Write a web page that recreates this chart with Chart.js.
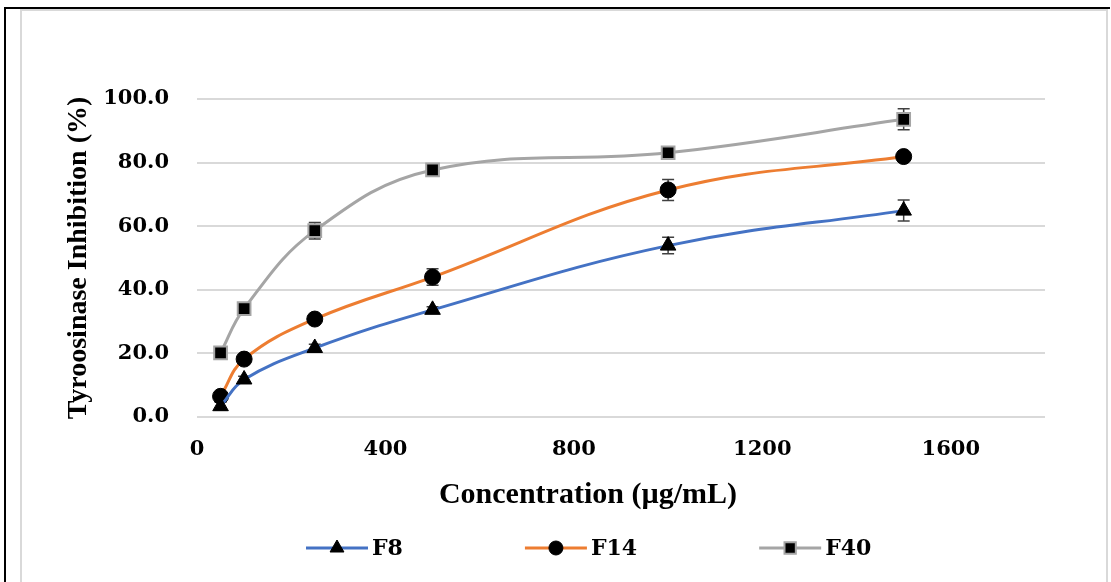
<!DOCTYPE html>
<html>
<head>
<meta charset="utf-8">
<script src="https://cdn.jsdelivr.net/npm/chart.js@4.4.1/dist/chart.umd.min.js"></script>
<style>
  html, body { margin: 0; padding: 0; background: #fff; }
  #wrap { position: relative; width: 1111px; height: 582px; overflow: hidden; }
  #line-chart { position: absolute; left: 0; top: 0; }
  .frame-outer { position: absolute; left: 4px; top: 7px; width: 1104px; height: 600px;
    border-top: 2px solid #000; border-left: 2px solid #000; pointer-events: none; }
  .frame-inner { position: absolute; left: 20px; top: 9px; width: 1084px; height: 600px;
    border: 2px solid #d9d9d9; border-bottom: none; pointer-events: none; }
</style>
</head>
<body>
<div id="wrap">
  <canvas id="line-chart" width="1111" height="582"></canvas>
  <div class="frame-outer"></div>
  <div class="frame-inner"></div>
</div>
<script>

const concentrations = [50, 100, 250, 500, 1000, 1500];

const f8 = [3.4, 11.8, 21.7, 33.7, 53.9, 64.9];
const f8Err = [1.2, 1.0, 1.2, 1.0, 2.6, 3.3];

const f14 = [6.5, 18.2, 30.8, 44.0, 71.4, 81.9];
const f14Err = [0.8, 0.8, 0.8, 2.6, 3.3, 1.0];

const f40 = [20.2, 34.1, 58.6, 77.7, 83.1, 93.6];
const f40Err = [0.8, 0.8, 2.6, 1.0, 1.2, 3.3];

const xTicks = [0, 400, 800, 1200, 1600];
const yTicks = [0, 20, 40, 60, 80, 100];

const tickFont = { family: 'DejaVu Serif', size: 21, weight: 'bold' };
const titleFont = { family: 'Liberation Serif', size: 28, weight: 'bold' };

function points(values) {
    return values.map((v, i) => ({ x: concentrations[i], y: v }));
}

// little helper for the legend samples
function drawMarker(ctx, style, x, y, r) {
    ctx.beginPath();
    if (style === 'triangle') {
        ctx.moveTo(x, y - r);
        ctx.lineTo(x + r * 0.866, y + r * 0.5);
        ctx.lineTo(x - r * 0.866, y + r * 0.5);
        ctx.closePath();
    } else if (style === 'rect') {
        const s = r * Math.SQRT1_2;
        ctx.rect(x - s, y - s, 2 * s, 2 * s);
    } else {
        ctx.arc(x, y, r, 0, Math.PI * 2);
    }
    ctx.fill();
    ctx.stroke();
}

const errorBars = {
    id: 'errorBars',
    beforeDatasetsDraw(chart) {
        const { ctx, scales: { x, y } } = chart;
        ctx.save();
        ctx.strokeStyle = '#404040';
        ctx.lineWidth = 1.5;
        chart.data.datasets.forEach(ds => {
            ds.errors.forEach((e, i) => {
                const p = ds.data[i];
                const px = x.getPixelForValue(p.x);
                const top = y.getPixelForValue(p.y + e);
                const bot = y.getPixelForValue(p.y - e);
                ctx.beginPath();
                ctx.moveTo(px, top); ctx.lineTo(px, bot);
                ctx.moveTo(px - 6, top); ctx.lineTo(px + 6, top);
                ctx.moveTo(px - 6, bot); ctx.lineTo(px + 6, bot);
                ctx.stroke();
            });
        });
        ctx.restore();
    }
};

const sampleLegend = {
    id: 'sampleLegend',
    afterDraw(chart) {
        const ctx = chart.ctx;
        const y = 548;
        let x = 306;
        ctx.save();
        ctx.font = 'bold 22px "DejaVu Serif"';
        ctx.textBaseline = 'middle';
        chart.data.datasets.forEach(ds => {
            ctx.strokeStyle = ds.borderColor;
            ctx.lineWidth = 3;
            ctx.beginPath();
            ctx.moveTo(x, y); ctx.lineTo(x + 62, y);
            ctx.stroke();
            ctx.fillStyle = '#000';
            ctx.strokeStyle = ds.pointBorderColor;
            ctx.lineWidth = ds.pointBorderWidth;
            drawMarker(ctx, ds.pointStyle, x + 31, y, ds.pointRadius - 1);
            ctx.fillStyle = '#000';
            ctx.fillText(ds.label, x + 66, y + 1);
            x += 66 + ctx.measureText(ds.label).width + 122;
        });
        ctx.restore();
    }
};

const chart = new Chart(document.getElementById('line-chart'), {
    type: 'line',
    data: {
        datasets: [{
            label: 'F8',
            data: points(f8),
            errors: f8Err,
            borderColor: '#4472C4',
            borderWidth: 3,
            pointStyle: 'triangle',
            pointRadius: 9,
            pointBackgroundColor: '#000',
            pointBorderColor: '#000',
            pointBorderWidth: 1,
            tension: 0.4
        }, {
            label: 'F14',
            data: points(f14),
            errors: f14Err,
            borderColor: '#ED7D31',
            borderWidth: 3,
            pointStyle: 'circle',
            pointRadius: 8,
            pointBackgroundColor: '#000',
            pointBorderColor: '#000',
            pointBorderWidth: 1,
            tension: 0.4
        }, {
            label: 'F40',
            data: points(f40),
            errors: f40Err,
            borderColor: '#A5A5A5',
            borderWidth: 3,
            pointStyle: 'rect',
            pointRadius: 9,
            pointBackgroundColor: '#000',
            pointBorderColor: '#A5A5A5',
            pointBorderWidth: 2,
            tension: 0.4
        }]
    },
    options: {
        responsive: false,
        animation: false,
        layout: { padding: { left: 65, right: 0, top: 99, bottom: 69 } },
        scales: {
            x: {
                type: 'linear',
                min: 0,
                max: 1800,
                afterBuildTicks: s => { s.ticks = xTicks.map(v => ({ value: v })); },
                // keep the plot clear of the right edge, title/legend still span the full width
                afterFit: s => { s.height = 50; s.paddingRight = 66; },
                grid: { display: false, drawTicks: false },
                border: { display: false },
                ticks: { font: tickFont, color: '#000', padding: 20, callback: v => String(v) }
            },
            y: {
                min: 0,
                max: 100,
                afterBuildTicks: s => { s.ticks = yTicks.map(v => ({ value: v })); },
                afterFit: s => { s.width = 132; },
                grid: { color: '#d9d9d9', lineWidth: 2, drawTicks: false },
                border: { display: false },
                ticks: { font: tickFont, color: '#000', padding: 28, callback: v => v.toFixed(1) },
                title: {
                    display: true,
                    text: 'Tyroosinase Inhibition (%)',
                    font: titleFont,
                    color: '#000',
                    padding: { top: -3, bottom: 0 }
                }
            }
        },
        plugins: {
            legend: { display: false },
            tooltip: { enabled: false },
            title: {
                display: true,
                position: 'bottom',
                text: 'Concentration (µg/mL)',
                font: { family: 'Liberation Serif', size: 30, weight: 'bold' },
                color: '#000',
                padding: { top: 10, bottom: 0 }
            }
        }
    },
    plugins: [errorBars, sampleLegend]
});

</script>
</body>
</html>
